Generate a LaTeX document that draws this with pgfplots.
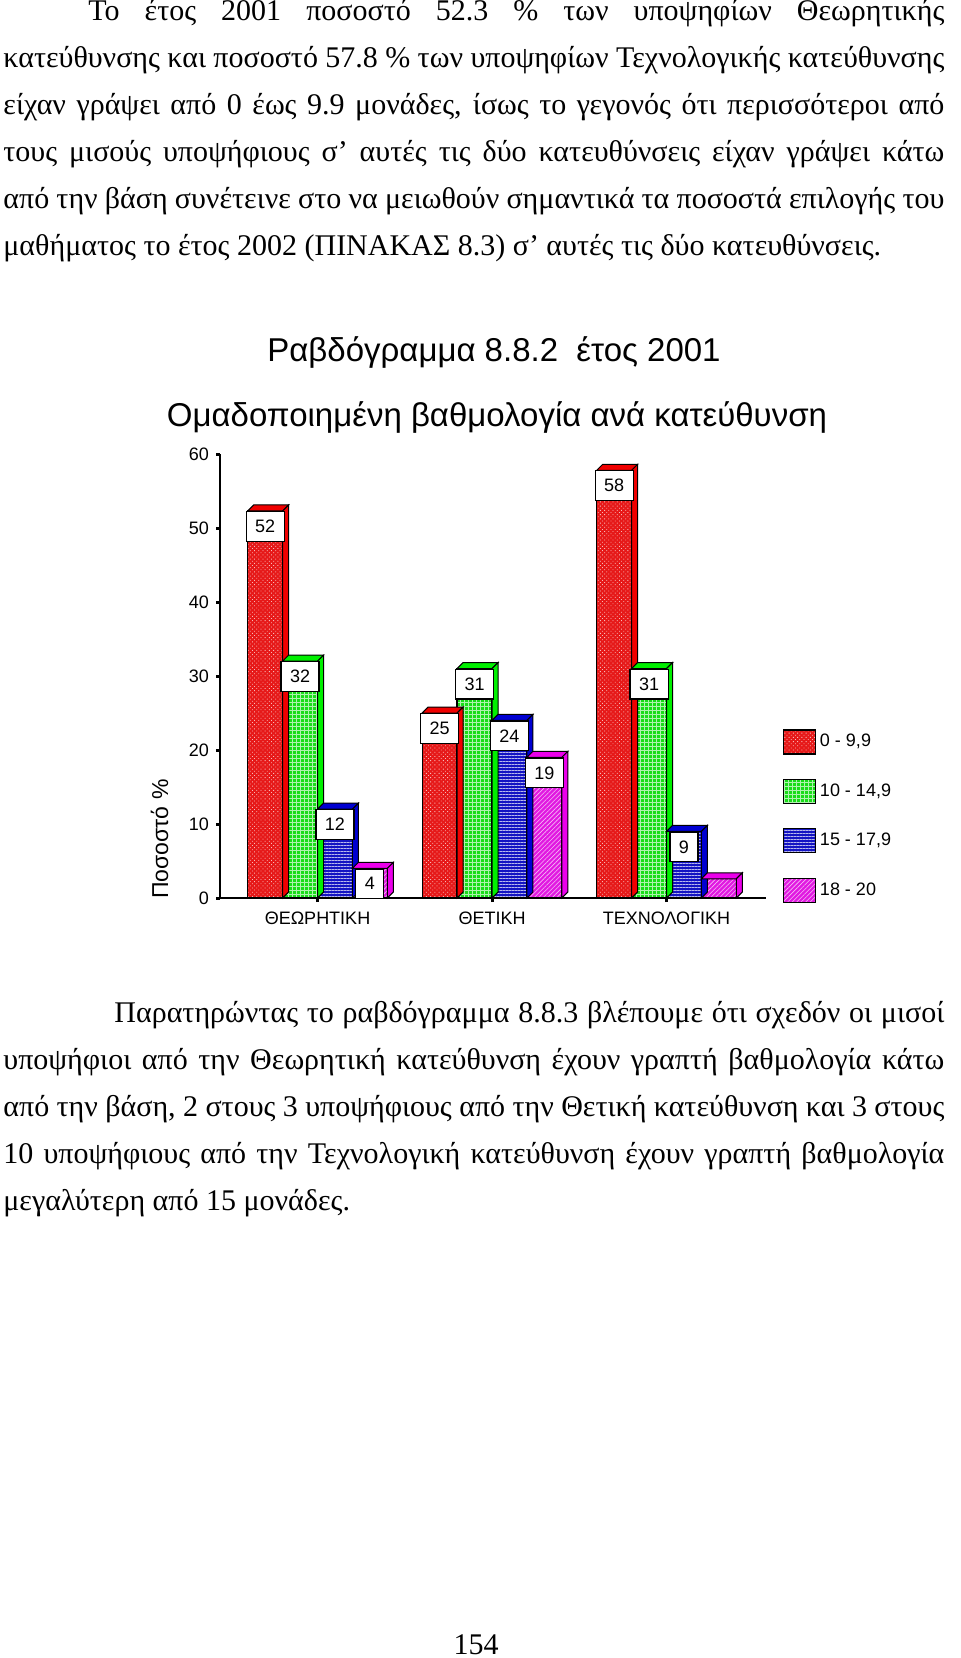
\documentclass[border=0pt]{standalone}
\usepackage{fontspec}
\setmainfont{Liberation Serif}
\newfontfamily\chartfont{Liberation Sans}
\usepackage{pgfplots}
\pgfplotsset{compat=1.18}
\usetikzlibrary{patterns.meta}

\definecolor{fR}{RGB}{230,25,25}
\definecolor{sR}{RGB}{240,0,0}
\definecolor{fG}{RGB}{25,220,25}
\definecolor{sG}{RGB}{0,240,0}
\definecolor{fB}{RGB}{20,20,195}
\definecolor{sB}{RGB}{0,0,210}
\definecolor{fM}{RGB}{225,25,225}
\definecolor{sM}{RGB}{235,0,235}

\pgfdeclareplotmark{nothing}{}

\tikzset{
  pR/.style={fill=fR, postaction={pattern={Dots[distance=1.5pt,radius=0.3pt,angle=45]}, pattern color=white!70!fR}},
  pG/.style={fill=fG, postaction={pattern={Hatch[angle=0,distance=2pt,line width=0.25pt]}, pattern color=white!65!fG}},
  pB/.style={fill=fB, postaction={pattern={Lines[angle=0,distance=1.5pt,line width=0.3pt]}, pattern color=white!70!fB}},
  pM/.style={fill=fM, postaction={pattern={Lines[angle=45,distance=1.6pt,line width=0.3pt]}, pattern color=white!70!fM}},
}

\pgfplotsset{
  mybar/.style={ybar, bar width=0.2006, bar shift=0pt, draw=black, line width=0.6pt,
    legend image code/.code={\draw[##1, draw=black, line width=0.6pt] (0pt,-6pt) rectangle (16pt,6pt);}},
  faces/.style={forget plot, scatter, only marks, mark=nothing,
    visualization depends on={rawy \as \rawy},
    scatter/@pre marker code/.code={%
      \pgfmathsetmacro\hh{\rawy*3.7}%
      \filldraw[fill=#1, draw=black, line width=0.5pt] (-8.75pt,0pt) -- (-5.75pt,3pt) -- (11.75pt,3pt) -- (8.75pt,0pt) -- cycle;
      \filldraw[fill=#1, draw=black, line width=0.5pt] (8.75pt,0pt) -- (11.75pt,3pt) -- (11.75pt,3pt-\hh pt) -- (8.75pt,-\hh pt) -- cycle;
    },
    scatter/@post marker code/.code={}},
}

\begin{document}
\begin{tikzpicture}
\path[use as bounding box] (0,0) rectangle (480pt,-829pt);

% ---- body text (top)
\begin{scope}[every node/.style={anchor=base west, inner sep=0pt, font=\fontsize{15}{17}\selectfont}]
\node at (44pt,-10.5pt) {\makebox[428pt][s]{Το έτος 2001 ποσοστό 52.3 \% των υποψηφίων Θεωρητικής}};
\node at (1.5pt,-34pt) {\makebox[470.5pt][s]{κατεύθυνσης και ποσοστό 57.8 \% των υποψηφίων Τεχνολογικής κατεύθυνσης}};
\node at (1.5pt,-57.5pt) {\makebox[470.5pt][s]{είχαν γράψει από 0 έως 9.9 μονάδες, ίσως το γεγονός ότι περισσότεροι από}};
\node at (1.5pt,-81pt) {\makebox[470.5pt][s]{τους μισούς υποψήφιους σ’ αυτές τις δύο κατευθύνσεις είχαν γράψει κάτω}};
\node at (1.5pt,-104.5pt) {\makebox[470.5pt][s]{από την βάση συνέτεινε στο να μειωθούν σημαντικά τα ποσοστά επιλογής του}};
\node at (1.5pt,-128pt) {μαθήματος το έτος 2002 (ΠΙΝΑΚΑΣ 8.3) σ’ αυτές τις δύο κατευθύνσεις.};
% ---- body text (bottom)
\node at (57pt,-511pt) {\makebox[415pt][s]{Παρατηρώντας το ραβδόγραμμα 8.8.3 βλέπουμε ότι σχεδόν οι μισοί}};
\node at (1.5pt,-534.5pt) {\makebox[470.5pt][s]{υποψήφιοι από την Θεωρητική κατεύθυνση έχουν γραπτή βαθμολογία κάτω}};
\node at (1.5pt,-558pt) {\makebox[470.5pt][s]{από την βάση, 2 στους 3 υποψήφιους από την Θετική κατεύθυνση και 3 στους}};
\node at (1.5pt,-581.5pt) {\makebox[470.5pt][s]{10 υποψήφιους από την Τεχνολογική κατεύθυνση έχουν γραπτή βαθμολογία}};
\node at (1.5pt,-605pt) {μεγαλύτερη από 15 μονάδες.};
\end{scope}
\node[anchor=base, inner sep=0pt, font=\fontsize{15}{17}\selectfont] at (238pt,-827pt) {154};

% ---- chart titles
\node[anchor=base, inner sep=0pt, font=\chartfont\fontsize{16.5}{18}\selectfont] at (247pt,-181pt) {Ραβδόγραμμα 8.8.2\ \ έτος 2001};
\node[anchor=base, inner sep=0pt, font=\chartfont\fontsize{16.5}{18}\selectfont] at (248.5pt,-213pt) {Ομαδοποιημένη βαθμολογία ανά κατεύθυνση};
\node[anchor=base, rotate=90, inner sep=0pt, font=\chartfont\fontsize{11.5}{13}\selectfont] at (84pt,-419.5pt) {Ποσοστό \%};

\begin{axis}[
  at={(110pt,-449pt)}, anchor=south west,
  width=273pt, height=222pt, scale only axis,
  xmin=-0.5587, xmax=2.570, ymin=0, ymax=60,
  clip=false,
  axis x line*=bottom, axis y line*=left,
  axis line style={line width=0.8pt, black},
  ytick={0,10,20,30,40,50,60},
  xtick={0,1,2}, xticklabels={ΘΕΩΡΗΤΙΚΗ, ΘΕΤΙΚΗ, ΤΕΧΝΟΛΟΓΙΚΗ},
  tick align=outside, major tick length=2pt,
  tick style={line width=1.5pt, black},
  tick label style={font=\chartfont\fontsize{9}{10}\selectfont},
  xticklabel style={yshift=-1.5pt},
  /pgf/number format/assume math mode=true,
  legend style={draw=none, fill=none, at={(1.03,0.3805)}, anchor=north west,
    font=\chartfont\fontsize{9}{10}\selectfont, row sep=12.1pt, inner sep=0pt},
  legend cell align=left,
]
% 0 - 9,9
\addplot[mybar, pR] coordinates {(-0.3,52.3) (0.7,25) (1.7,57.8)};
\addlegendentry{0 - 9,9}
\addplot[faces=sR] coordinates {(-0.3,52.3) (0.7,25) (1.7,57.8)};
% 10 - 14,9
\addplot[mybar, pG] coordinates {(-0.1,32) (0.9,31) (1.9,31)};
\addlegendentry{10 - 14,9}
\addplot[faces=sG] coordinates {(-0.1,32) (0.9,31) (1.9,31)};
% 15 - 17,9
\addplot[mybar, pB] coordinates {(0.1,12) (1.1,24) (2.1,9)};
\addlegendentry{15 - 17,9}
\addplot[faces=sB] coordinates {(0.1,12) (1.1,24) (2.1,9)};
% 18 - 20
\addplot[mybar, pM] coordinates {(0.3,4) (1.3,19) (2.3,2.6)};
\addlegendentry{18 - 20}
\addplot[faces=sM] coordinates {(0.3,4) (1.3,19) (2.3,2.6)};
% value labels
\addplot[forget plot, only marks, mark=nothing, point meta=explicit symbolic,
  nodes near coords,
  every node near coord/.append style={anchor=north, draw=black, fill=white, line width=0.6pt,
    inner xsep=4.5pt, inner ysep=4.25pt, text=black, font=\chartfont\fontsize{9}{10}\selectfont}]
  coordinates {(-0.3,52.3)[52] (-0.1,32)[32] (0.1,12)[12] (0.3,4)[4]
               (0.7,25)[25] (0.9,31)[31] (1.1,24)[24] (1.3,19)[19]
               (1.7,57.8)[58] (1.9,31)[31] (2.1,9)[9]};
\end{axis}
\end{tikzpicture}
\end{document}
